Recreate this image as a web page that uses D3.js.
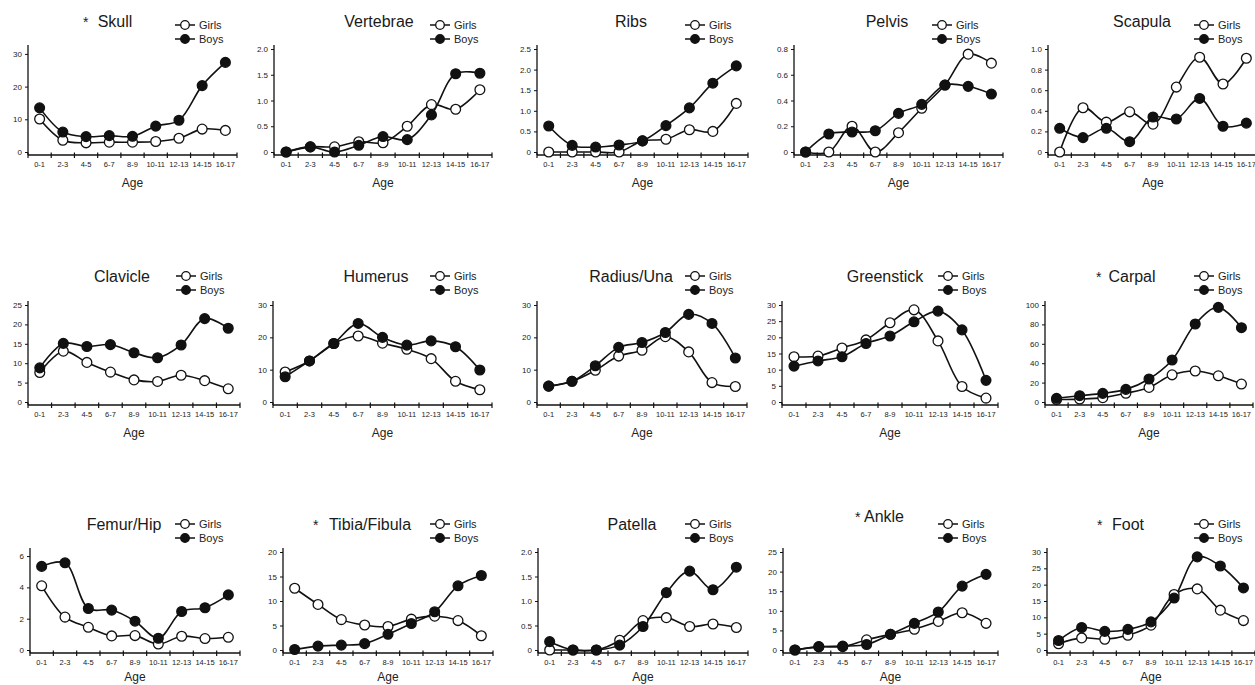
<!DOCTYPE html>
<meta charset="utf-8">
<style>
body { margin: 0; background: #fff; }
svg { font-family: "Liberation Sans", Arial, Helvetica, sans-serif; }
.line { fill: none; stroke: #111; stroke-width: 1.6px; }
.tick text { fill: #222; }
</style>
<body>
<script src="https://d3js.org/d3.v7.min.js"></script>
<script>
// age groups on every x axis
const ages = ["0-1", "2-3", "4-5", "6-7", "8-9", "10-11", "12-13", "14-15", "16-17"];

// values, girls / boys per bone
const skullGirls = [10.1, 3.6, 2.8, 3.0, 3.0, 3.2, 4.2, 7.0, 6.6];
const skullBoys = [13.5, 6.1, 4.7, 5.0, 4.8, 7.9, 9.7, 20.3, 27.4];
const vertebraeGirls = [0, 0.1, 0.1, 0.2, 0.18, 0.5, 0.92, 0.83, 1.21];
const vertebraeBoys = [0, 0.1, 0, 0.13, 0.3, 0.24, 0.72, 1.52, 1.53];
const ribsGirls = [0, 0, 0, 0, 0.27, 0.31, 0.54, 0.5, 1.18];
const ribsBoys = [0.63, 0.16, 0.12, 0.17, 0.27, 0.64, 1.07, 1.67, 2.09];
const pelvisGirls = [0, 0, 0.2, 0, 0.15, 0.34, 0.52, 0.76, 0.69];
const pelvisBoys = [0, 0.14, 0.155, 0.165, 0.3, 0.37, 0.52, 0.51, 0.45];
const scapulaGirls = [0, 0.43, 0.29, 0.39, 0.27, 0.63, 0.92, 0.66, 0.91];
const scapulaBoys = [0.23, 0.14, 0.23, 0.1, 0.34, 0.32, 0.52, 0.25, 0.28];
const clavicleGirls = [7.6, 13.1, 10.2, 7.7, 5.7, 5.3, 6.9, 5.5, 3.4];
const clavicleBoys = [8.8, 15.1, 14.3, 14.8, 12.7, 11.4, 14.7, 21.5, 19.0];
const humerusGirls = [9.3, 12.7, 18.1, 20.4, 18.2, 16.3, 13.4, 6.4, 3.8];
const humerusBoys = [7.8, 12.7, 18.1, 24.3, 20.0, 17.6, 18.9, 17.1, 9.9];
const radiusGirls = [4.9, 6.4, 9.8, 14.2, 16.0, 20.2, 15.5, 6.0, 4.8];
const radiusBoys = [4.9, 6.4, 11.2, 16.9, 18.4, 21.5, 27.1, 24.3, 13.6];
const greenstickGirls = [14.0, 14.2, 16.7, 19.2, 24.5, 28.5, 18.9, 4.8, 1.2];
const greenstickBoys = [11.1, 12.7, 14.0, 18.1, 20.4, 24.8, 28.1, 22.3, 6.7];
const carpalGirls = [2.5, 3.0, 4.5, 9.0, 15.0, 28.0, 32.0, 27.0, 18.5];
const carpalBoys = [3.8, 6.5, 8.9, 13.0, 23.7, 43.3, 80.4, 97.6, 76.6];
const femurGirls = [4.1, 2.1, 1.45, 0.9, 0.92, 0.38, 0.88, 0.73, 0.81];
const femurBoys = [5.34, 5.57, 2.65, 2.55, 1.84, 0.75, 2.46, 2.7, 3.52];
const tibiaGirls = [12.6, 9.3, 6.2, 5.1, 4.8, 6.3, 6.9, 6.0, 2.9];
const tibiaBoys = [0.1, 0.8, 1.0, 1.3, 3.2, 5.4, 7.8, 13.1, 15.2];
const patellaGirls = [0, 0, 0, 0.2, 0.6, 0.66, 0.48, 0.53, 0.46];
const patellaBoys = [0.17, 0, 0, 0.1, 0.48, 1.17, 1.61, 1.23, 1.69];
const ankleGirls = [0, 0.8, 0.85, 2.6, 4.0, 5.3, 7.3, 9.5, 6.8];
const ankleBoys = [0, 0.85, 1.0, 1.4, 4.0, 6.8, 9.7, 16.3, 19.3];
const footGirls = [1.9, 3.7, 3.3, 4.5, 7.6, 17.0, 18.7, 12.2, 9.0];
const footBoys = [2.9, 6.9, 5.7, 6.3, 8.6, 15.9, 28.5, 25.7, 19.0];

// y tick values per panel
const ticks30by10 = [0, 10, 20, 30];
const ticks2by05 = [0, 0.5, 1.0, 1.5, 2.0];
const ticks25by05 = [0, 0.5, 1.0, 1.5, 2.0, 2.5];
const ticks08 = [0, 0.2, 0.4, 0.6, 0.8];
const ticks10 = [0, 0.2, 0.4, 0.6, 0.8, 1.0];
const ticks25by5 = [0, 5, 10, 15, 20, 25];
const ticks30by5 = [0, 5, 10, 15, 20, 25, 30];
const ticks100 = [0, 20, 40, 60, 80, 100];
const ticks6 = [0, 2, 4, 6];
const ticks20 = [0, 5, 10, 15, 20];

// row geometry
const rows = [
  {titleY: 27, legY: 25, top: 49, zero: 152, ageY: 187},
  {titleY: 282, legY: 276, top: 305, zero: 402, ageY: 437},
  {titleY: 530, legY: 524, top: 552, zero: 650, ageY: 681}
];

const panels = [
  {name: "Skull", star: 83, row: 0, x0: 28, x1: 237, tx: 115, lx: 175, max: 31.5, ticks: ticks30by10, dec: 0, girls: skullGirls, boys: skullBoys},
  {name: "Vertebrae", row: 0, x0: 274, x1: 492, tx: 379, lx: 430, max: 2.0, ticks: ticks2by05, dec: 1, girls: vertebraeGirls, boys: vertebraeBoys},
  {name: "Ribs", row: 0, x0: 537, x1: 748, tx: 631, lx: 685, max: 2.5, ticks: ticks25by05, dec: 1, girls: ribsGirls, boys: ribsBoys},
  {name: "Pelvis", row: 0, x0: 794, x1: 1003, tx: 887, lx: 932, max: 0.8, ticks: ticks08, dec: 1, girls: pelvisGirls, boys: pelvisBoys},
  {name: "Scapula", row: 0, x0: 1048, x1: 1258, tx: 1142, lx: 1194, max: 1.0, ticks: ticks10, dec: 1, girls: scapulaGirls, boys: scapulaBoys},
  {name: "Clavicle", row: 1, x0: 28, x1: 240, tx: 122, lx: 176, max: 25, ticks: ticks25by5, dec: 0, girls: clavicleGirls, boys: clavicleBoys},
  {name: "Humerus", row: 1, x0: 273, x1: 492, tx: 376, lx: 430, max: 30, ticks: ticks30by10, dec: 0, girls: humerusGirls, boys: humerusBoys},
  {name: "Radius/Una", row: 1, x0: 537, x1: 747, tx: 631, lx: 685, max: 30, ticks: ticks30by10, dec: 0, girls: radiusGirls, boys: radiusBoys},
  {name: "Greenstick", row: 1, x0: 782, x1: 998, tx: 885, lx: 938, max: 30, ticks: ticks30by5, dec: 0, girls: greenstickGirls, boys: greenstickBoys},
  {name: "Carpal", star: 1096, row: 1, x0: 1045, x1: 1253, tx: 1132, lx: 1194, max: 100, ticks: ticks100, dec: 0, girls: carpalGirls, boys: carpalBoys},
  {name: "Femur/Hip", row: 2, x0: 30, x1: 240, tx: 124, lx: 175, max: 6.26, ticks: ticks6, dec: 0, girls: femurGirls, boys: femurBoys},
  {name: "Tibia/Fibula", star: 313, row: 2, x0: 283, x1: 493, tx: 370, lx: 430, max: 20, ticks: ticks20, dec: 0, girls: tibiaGirls, boys: tibiaBoys},
  {name: "Patella", row: 2, x0: 538, x1: 748, tx: 632, lx: 685, max: 2.0, ticks: ticks2by05, dec: 1, girls: patellaGirls, boys: patellaBoys},
  {name: "Ankle", star: 855, row: 2, x0: 783, x1: 998, tx: 884, lx: 938, titleY: 522, max: 25, ticks: ticks25by5, dec: 0, girls: ankleGirls, boys: ankleBoys},
  {name: "Foot", star: 1097, row: 2, x0: 1047, x1: 1255, tx: 1128, lx: 1194, max: 30, ticks: ticks30by5, dec: 0, girls: footGirls, boys: footBoys}
];

const svg = d3.select("body").append("svg")
  .attr("width", 1255)
  .attr("height", 685);

const curve = d3.curveCatmullRom.alpha(0.5);

panels.forEach(function(p) {
  const r = rows[p.row];
  const g = svg.append("g");

  const x = d3.scaleBand().domain(ages).range([p.x0, p.x1]);
  const y = d3.scaleLinear().domain([0, p.max]).range([r.zero, r.top]);
  const axisY = r.zero + 3;

  // y axis
  const fmt = function(d) { return d === 0 ? "0" : d3.format("." + p.dec + "f")(d); };
  const ya = g.append("g")
    .attr("transform", "translate(" + p.x0 + ",0)")
    .call(d3.axisLeft(y).tickValues(p.ticks).tickFormat(fmt).tickSize(3).tickPadding(3));
  ya.select(".domain").remove();
  ya.selectAll("text").style("font-size", "8px");
  ya.selectAll("line").attr("stroke", "#111");
  g.append("line")
    .attr("x1", p.x0).attr("x2", p.x0)
    .attr("y1", r.top - 4).attr("y2", axisY)
    .attr("stroke", "#111").attr("stroke-width", 1.3);

  // x axis: line, ticks on band edges, labels in band centres
  g.append("line")
    .attr("x1", p.x0).attr("x2", p.x1)
    .attr("y1", axisY).attr("y2", axisY)
    .attr("stroke", "#111").attr("stroke-width", 1.3);
  const edges = ages.map(function(a) { return x(a); }).concat([p.x1]);
  g.selectAll(".xt").data(edges).enter().append("line")
    .attr("x1", function(d) { return d; }).attr("x2", function(d) { return d; })
    .attr("y1", axisY - 2.5).attr("y2", axisY + 3)
    .attr("stroke", "#111").attr("stroke-width", 1.2);
  g.selectAll(".xl").data(ages).enter().append("text")
    .attr("x", function(d) { return x(d) + x.bandwidth() / 2; })
    .attr("y", axisY + 12)
    .attr("text-anchor", "middle")
    .style("font-size", "7.5px")
    .attr("fill", "#222")
    .text(function(d) { return d; });

  g.append("text")
    .attr("x", (p.x0 + p.x1) / 2).attr("y", r.ageY)
    .attr("text-anchor", "middle")
    .style("font-size", "12px")
    .attr("fill", "#222")
    .text("Age");

  // title
  const ty = p.titleY || r.titleY;
  g.append("text")
    .attr("x", p.tx).attr("y", ty)
    .attr("text-anchor", "middle")
    .style("font-size", "16px")
    .attr("fill", "#1a1a1a")
    .text(p.name);
  if (p.star) {
    g.append("text")
      .attr("x", p.star).attr("y", ty)
      .style("font-size", "14px")
      .attr("fill", "#1a1a1a")
      .text("*");
  }

  // lines and markers
  const series = [
    {key: "Girls", values: p.girls, fill: "#fff"},
    {key: "Boys", values: p.boys, fill: "#111"}
  ];
  const line = d3.line()
    .x(function(d, i) { return x(ages[i]) + x.bandwidth() / 2; })
    .y(function(d) { return y(d); })
    .curve(curve);

  series.forEach(function(s) {
    g.append("path").attr("class", "line").attr("d", line(s.values));
  });
  series.forEach(function(s) {
    g.selectAll(null).data(s.values).enter().append("circle")
      .attr("cx", function(d, i) { return x(ages[i]) + x.bandwidth() / 2; })
      .attr("cy", function(d) { return y(d); })
      .attr("r", 4.9)
      .attr("fill", s.fill)
      .attr("stroke", "#111")
      .attr("stroke-width", 1.3);
  });

  // legend
  series.forEach(function(s, i) {
    const ly = r.legY + i * 14;
    g.append("line")
      .attr("x1", p.lx).attr("x2", p.lx + 20)
      .attr("y1", ly).attr("y2", ly)
      .attr("stroke", "#111").attr("stroke-width", 1.5);
    g.append("circle")
      .attr("cx", p.lx + 10).attr("cy", ly).attr("r", 4.3)
      .attr("fill", s.fill).attr("stroke", "#111").attr("stroke-width", 1.3);
    g.append("text")
      .attr("x", p.lx + 24).attr("y", ly + 4)
      .style("font-size", "11px")
      .attr("fill", "#222")
      .text(s.key);
  });
});
</script>
</body>
